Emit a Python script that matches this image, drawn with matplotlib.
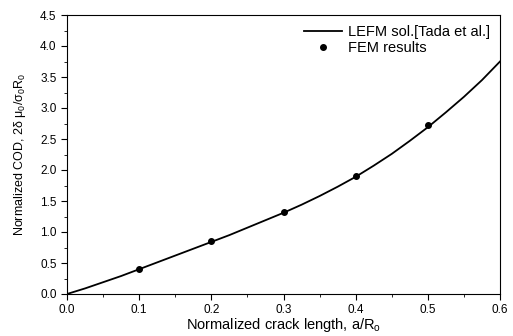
import matplotlib
matplotlib.use("Agg")
from matplotlib import pyplot as plt
from matplotlib.ticker import MultipleLocator, FormatStrFormatter

## DATA
# LEFM solution (Tada et al.)
lefm_x = [0.0, 0.025, 0.05, 0.075, 0.1, 0.125, 0.15, 0.175, 0.2, 0.225, 0.25, 0.275, 0.3,
          0.325, 0.35, 0.375, 0.4, 0.425, 0.45, 0.475, 0.5, 0.525, 0.55, 0.575, 0.6]
lefm_y = [0.0, 0.09, 0.19, 0.29, 0.40, 0.51, 0.62, 0.73, 0.84, 0.95, 1.07, 1.19, 1.31,
          1.44, 1.58, 1.73, 1.89, 2.07, 2.26, 2.47, 2.69, 2.93, 3.18, 3.45, 3.75]
# FEM results
fem_x = [0.1, 0.2, 0.3, 0.4, 0.5]
fem_y = [0.40, 0.86, 1.33, 1.90, 2.72]

plt.rcParams['font.family'] = ['Liberation Sans', 'DejaVu Sans']
plt.rcParams['mathtext.fontset'] = 'custom'
plt.rcParams['mathtext.rm'] = 'Liberation Sans'
plt.rcParams['mathtext.it'] = 'Liberation Sans'

fig = plt.figure(figsize=(5.13, 3.36), dpi=100)
ax = fig.add_axes([67/513, 1 - 294/336, (500-67)/513, (294-15)/336])

ax.plot(lefm_x, lefm_y, color='black', lw=1.3, label='LEFM sol.[Tada et al.]')
ax.plot(fem_x, fem_y, 'o', color='black', ms=4, label='FEM results')

ax.set_xlim(0, 0.6)
ax.set_ylim(0, 4.5)
ax.xaxis.set_major_locator(MultipleLocator(0.1))
ax.xaxis.set_minor_locator(MultipleLocator(0.05))
ax.yaxis.set_major_locator(MultipleLocator(0.5))
ax.yaxis.set_minor_locator(MultipleLocator(0.25))
ax.xaxis.set_major_formatter(FormatStrFormatter('%.1f'))
ax.yaxis.set_major_formatter(FormatStrFormatter('%.1f'))
ax.tick_params(which='both', direction='out', top=False, right=False, labelsize=8.5, pad=3)
ax.tick_params(which='major', length=4.5)
ax.tick_params(which='minor', length=2.5)

ax.set_xlabel('Normalized crack length, a/R$_\\mathrm{o}$', fontsize=10.5, labelpad=0)
ax.set_ylabel('Normalized COD, 2$\\delta$ $\\mu_0$/$\\sigma_0$R$_0$', fontsize=9, labelpad=9)

ax.legend(loc='upper right', frameon=False, fontsize=10.5, handlelength=2.6,
          handletextpad=0.4, labelspacing=0.1, borderaxespad=0.3)

fig.savefig('out.png', dpi=100)
